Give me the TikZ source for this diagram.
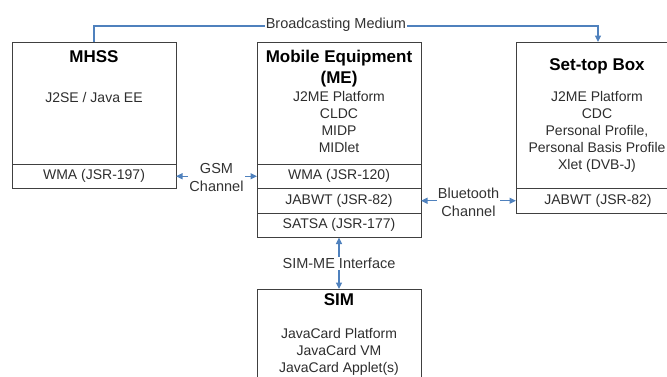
\documentclass[tikz,border=0pt]{standalone}
\usepackage{fontspec}
\setmainfont{Liberation Sans}
\usetikzlibrary{arrows.meta,positioning}
\definecolor{linkblue}{RGB}{79,129,189}
\definecolor{boxgray}{RGB}{64,64,64}
\definecolor{textgray}{RGB}{45,45,45}

\begin{document}
\begin{tikzpicture}[x=1pt,y=-1pt]
    \tikzstyle{box}=[draw=boxgray, line width=1pt, minimum width=164pt, inner sep=0pt, outer sep=0pt]
    \tikzstyle{row}=[box, minimum height=24.5pt, text=textgray, font=\fontsize{14}{17}\selectfont]
    \tikzstyle{title}=[inner sep=0pt, align=center, font=\bfseries\fontsize{17}{20.5}\selectfont]
    \tikzstyle{body}=[inner sep=0pt, align=center, text=textgray, font=\fontsize{14}{17}\selectfont]
    \tikzstyle{link}=[linkblue, line width=1.1pt, >={Triangle[length=6.5pt,width=6pt]}]
    \tikzstyle{linklabel}=[fill=white, inner sep=1pt, align=center, text=black!80, font=\fontsize{14.5}{18.5}\selectfont]

    \useasboundingbox (0,0) rectangle (667,376);
    \clip (0,0) rectangle (667,376);

    % MHSS
    \node[box, minimum height=122pt, anchor=north west] (mhss) at (12,42) {};
    \node[row, anchor=north] (mhsswma) at (mhss.south) {WMA (JSR-197)};
    \node[title] (mhsstitle) at (94,56.5) {MHSS};
    \node[body] (mhssbody) at (94,97.5) {J2SE / Java EE};

    % Mobile Equipment
    \node[box, minimum height=122pt, anchor=north west] (me) at (257,42) {};
    \node[row, anchor=north] (mewma) at (me.south) {WMA (JSR-120)};
    \node[row, anchor=north] (mejabwt) at (mewma.south) {JABWT (JSR-82)};
    \node[row, anchor=north] (mesatsa) at (mejabwt.south) {SATSA (JSR-177)};
    \node[title] (metitle) at (339,68.8) {Mobile Equipment\\(ME)};
    \node[body] (mebody) at (339,122) {J2ME Platform\\CLDC\\MIDP\\MIDlet};

    % Set-top Box
    \node[box, minimum height=146.5pt, anchor=north west] (stb) at (516,42) {};
    \node[row, anchor=north] (stbjabwt) at (stb.south) {JABWT (JSR-82)};
    \node[title] (stbtitle) at (597,66.5) {Set-top Box};
    \node[body] (stbbody) at (597,132.3) {J2ME Platform\\CDC\\Personal Profile,\\Personal Basis Profile\\Xlet (DVB-J)};

    % SIM
    \node[box, minimum height=120pt, anchor=north west] (sim) at (257,289) {};
    \node[title] (simtitle) at (339,300) {SIM};
    \node[body] (simbody) at (339,352.3) {JavaCard Platform\\JavaCard VM\\JavaCard Applet(s)};

    % Channels between the devices
    \draw[link, <->] (mhsswma.east) -- (mewma.west) node[linklabel, midway, yshift=-1.5pt] {GSM\\Channel};
    \draw[link, <->] (mejabwt.east) -- (stbjabwt.west) node[linklabel, midway, yshift=-1.5pt] {Bluetooth\\Channel};
    \draw[link, <->] (mesatsa.south) -- (sim.north) node[linklabel, midway] {SIM-ME Interface};

    % Broadcasting
    \draw[link, ->] (mhss.north) -- ++(0,-16) -| node[linklabel, pos=0.24, yshift=1.5pt] {Broadcasting Medium} (stb.north);
\end{tikzpicture}
\end{document}
